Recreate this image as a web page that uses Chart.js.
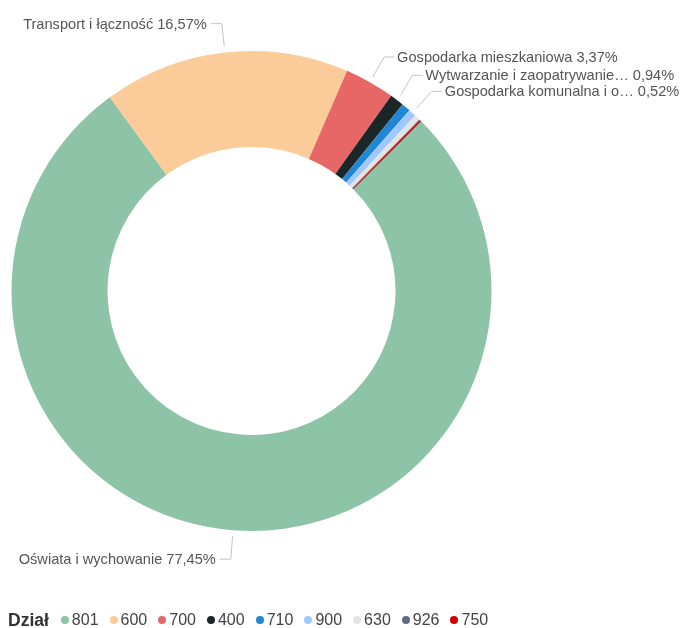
<!DOCTYPE html>
<html>
<head>
<meta charset="utf-8">
<script src="https://cdn.jsdelivr.net/npm/chart.js@4"></script>
<style>
html,body{margin:0;padding:0;background:#fff;}
#wrap{position:relative;width:684px;height:628px;overflow:hidden;}
#legend{position:absolute;left:8px;top:610px;font:16px 'Liberation Sans',Arial,sans-serif;line-height:20px;color:#444;display:flex;align-items:center;white-space:nowrap;}
#legend .title{font-weight:bold;font-size:17.5px;color:#333;margin-right:12px;}
#legend .item{display:flex;align-items:center;margin-right:11px;}
#legend .dot{width:8px;height:8px;border-radius:50%;margin-right:3px;}
</style>
</head>
<body>
<div id="wrap"><canvas id="c" width="684" height="628"></canvas><div id="legend"></div></div>
<script>
const legendTitle = 'Dział';
const codes = ['801','600','700','400','710','900','630','926','750'];
const names = [
  'Oświata i wychowanie',
  'Transport i łączność',
  'Gospodarka mieszkaniowa',
  'Wytwarzanie i zaopatrywanie w energię elektryczną, gaz i wodę',
  'Działalność usługowa',
  'Gospodarka komunalna i ochrona środowiska',
  'Turystyka',
  'Kultura fizyczna',
  'Administracja publiczna'
];
const values = [77.45, 16.57, 3.37, 0.94, 0.60, 0.52, 0.37, 0.06, 0.12];
const colors = ['#8dc3a7','#fbcc99','#e76767','#1b2626','#2187d4','#9ec8ff','#e4e4e4','#5e6d85','#d10000'];
const labelled = ['801','600','700','400','900'];

const total = values.reduce((a,b)=>a+b,0);
function pctText(v){ return (v/total*100).toFixed(2).replace('.',',') + '%'; }

const labelPlugin = {
  id: 'outLabels',
  afterDraw(chart){
    const ctx = chart.ctx;
    const meta = chart.getDatasetMeta(0);
    const items = [];
    meta.data.forEach((arc,i)=>{
      if(!labelled.includes(codes[i])) return;
      const p = arc.getProps(['x','y','startAngle','endAngle','outerRadius']);
      const mid = (p.startAngle + p.endAngle)/2;
      const c = Math.cos(mid), s = Math.sin(mid);
      const r1 = p.outerRadius + 6, r2 = p.outerRadius + 29;
      items.push({i, cx:p.x, cy:p.y, x1:p.x+c*r1, y1:p.y+s*r1, x2:p.x+c*r2, y2:p.y+s*r2, right:c>=0, r2, adj:false});
    });
    ['right','left'].forEach(side=>{
      const list = items.filter(it=>(side==='right')===it.right).sort((a,b)=>a.y2-b.y2);
      for(let k=list.length-2;k>=0;k--){
        if(list[k].y2 > list[k+1].y2 - 16){ list[k].y2 = list[k+1].y2 - 16; list[k].adj = true; }
      }
      list.forEach(it=>{
        if(it.adj){
          const dy = it.y2 - it.cy;
          const dx = Math.sqrt(Math.max(it.r2*it.r2 - dy*dy, 0));
          it.x2 = it.cx + (it.right ? dx : -dx);
        }
      });
    });
    ctx.save();
    ctx.font = '14.6px "Liberation Sans", Arial, sans-serif';
    ctx.textBaseline = 'middle';
    items.forEach(it=>{
      const hx = it.x2 + (it.right ? 10 : -11);
      ctx.strokeStyle = '#c4c4c4';
      ctx.lineWidth = 1;
      ctx.beginPath();
      ctx.moveTo(it.x1, it.y1);
      ctx.lineTo(it.x2, it.y2);
      ctx.lineTo(hx, it.y2);
      ctx.stroke();
      const tx = hx + (it.right ? 3 : -4);
      const avail = it.right ? (chart.width - 3 - tx) : (tx - 3);
      const pct = pctText(values[it.i]);
      let name = names[it.i];
      let txt = name + ' ' + pct;
      if(ctx.measureText(txt).width > avail){
        while(name.length > 1){
          name = name.slice(0,-1);
          txt = name.replace(/\s+$/,'') + '\u2026 ' + pct;
          if(ctx.measureText(txt).width <= avail) break;
        }
      }
      ctx.fillStyle = '#555';
      ctx.textAlign = it.right ? 'left' : 'right';
      ctx.fillText(txt, tx, it.y2 + 1);
    });
    ctx.restore();
  }
};

new Chart(document.getElementById('c'), {
  type: 'doughnut',
  data: {
    labels: codes,
    datasets: [{
      data: values,
      backgroundColor: colors,
      borderWidth: 0,
      hoverOffset: 0
    }]
  },
  options: {
    responsive: false,
    animation: false,
    cutout: '60%',
    rotation: 45,
    layout: { padding: { left: 11.5, right: 192.5, top: 51, bottom: 97 } },
    plugins: {
      legend: { display: false },
      tooltip: { enabled: false }
    }
  },
  plugins: [labelPlugin]
});

const lg = document.getElementById('legend');
const t = document.createElement('span');
t.className = 'title';
t.textContent = legendTitle;
lg.appendChild(t);
codes.forEach((code,i)=>{
  const it = document.createElement('span');
  it.className = 'item';
  const d = document.createElement('span');
  d.className = 'dot';
  d.style.background = colors[i];
  const tx = document.createElement('span');
  tx.textContent = code;
  it.appendChild(d); it.appendChild(tx);
  lg.appendChild(it);
});
</script>
</body>
</html>
